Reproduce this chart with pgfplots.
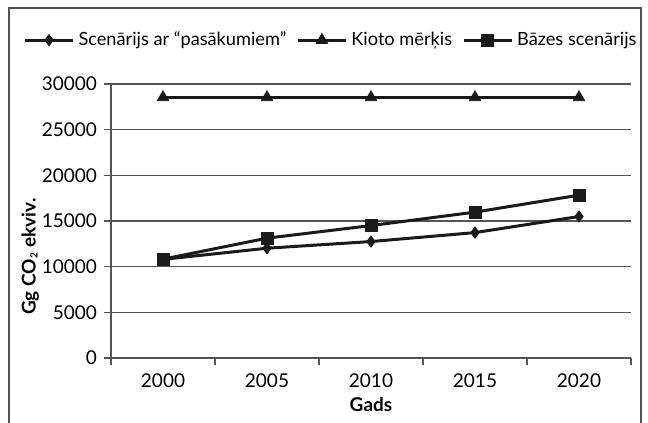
\documentclass[border=0pt]{standalone}
\usepackage{pgfplots}
\pgfplotsset{compat=1.18}
\usepackage{fontspec}
\setmainfont{Lato}
\definecolor{ln}{HTML}{1A1A1A}
\definecolor{gr}{HTML}{555555}
\begin{document}
\begin{tikzpicture}
\useasboundingbox (0pt,0pt) rectangle (324pt,211.5pt);
\draw[gr, line width=0.6pt] (4.5pt,-10pt) -- (4.5pt,207.5pt) -- (320.5pt,207.5pt) -- (320.5pt,-10pt);
\begin{axis}[
  at={(55.5pt,32.5pt)}, anchor=south west,
  scale only axis, width=260pt, height=137pt,
  xmin=-0.5, xmax=4.5, ymin=0, ymax=30000,
  xtick={0,1,2,3,4},
  xticklabels={2000,2005,2010,2015,2020},
  major x tick style={draw=none},
  minor xtick={-0.5,0.5,1.5,2.5,3.5,4.5},
  minor tick length=3.5pt,
  ytick={0,5000,...,30000},
  major tick length=3.5pt,
  tick align=outside,
  tick style={gr, line width=0.6pt},
  axis x line*=bottom, axis y line*=left,
  axis line style={gr, line width=0.6pt, -},
  ymajorgrids, grid style={gr, line width=0.6pt},
  scaled y ticks=false,
  /pgf/number format/assume math mode=true,
  yticklabel={\pgfmathprintnumber[fixed,1000 sep={}]{\tick}},
  tick label style={font=\fontsize{9.5}{11}\selectfont, text=black},
  xticklabel style={yshift=-1pt},
  ylabel={\textbf{Gg CO\textsubscript{\tiny 2} ekviv.}},
  ylabel style={font=\fontsize{9.5}{11}\selectfont, at={(axis description cs:-0.155,0.37)}, anchor=center, rotate=0},
  xlabel={\textbf{Gads}},
  xlabel style={font=\fontsize{9.5}{11}\selectfont, at={(axis description cs:0.5,-0.17)}, anchor=center},
  legend columns=3,
  legend style={draw=none, fill=none, at={(axis description cs:0.425,1.16)}, anchor=center,
    inner xsep=0pt,
    font=\fontsize{9.1}{11}\selectfont, /tikz/every even column/.append style={column sep=3pt}},
  legend image code/.code={
    \draw[#1, mark repeat=2, mark phase=2] plot coordinates {(0pt,0pt) (12pt,0pt) (24pt,0pt)};
  },
  every axis plot/.append style={ln, line width=1.5pt, mark options={solid, fill=ln, draw=ln, line width=0.4pt}},
]
\addplot[mark=diamond*, mark size=2.8pt] coordinates {(0,10800) (1,12020) (2,12750) (3,13730) (4,15490)};
\addlegendentry{Scenārijs ar “pasākumiem”}
\addplot[mark=triangle*, mark size=3.3pt] coordinates {(0,28530) (1,28530) (2,28530) (3,28530) (4,28530)};
\addlegendentry{Kioto mērķis}
\addplot[mark=square*, mark size=3pt] coordinates {(0,10820) (1,13120) (2,14500) (3,15970) (4,17830)};
\addlegendentry{Bāzes scenārijs}
\end{axis}
\end{tikzpicture}
\end{document}
